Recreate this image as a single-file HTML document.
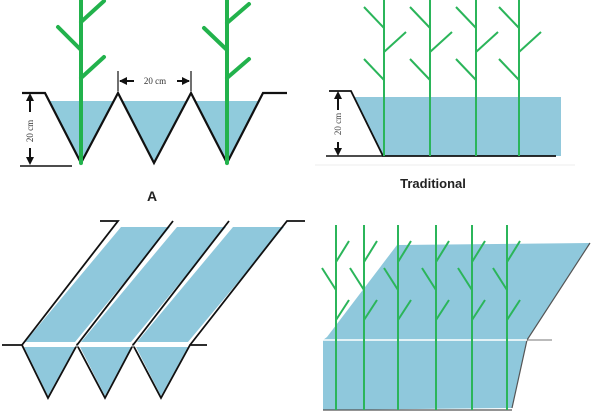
<!DOCTYPE html>
<html><head><style>body{margin:0;background:#fff}svg{display:block}</style></head><body>
<svg width="600" height="420" viewBox="0 0 600 420" xmlns="http://www.w3.org/2000/svg" font-family="Liberation Serif, serif">
<!-- Top-left A -->
<polygon points="49,101 81,163 114,101 122,101 154,163 187,101 195,101 227,163 259,101" fill="#90cbdc"/>
<polyline points="22,93 45,93 81,163 118,93 154,163 191,93 227,163 263,93 287,93" fill="none" stroke="#111" stroke-width="2.2"/>
<line x1="20" y1="166" x2="72" y2="166" stroke="#111" stroke-width="1.5"/>
<line x1="30" y1="95" x2="30" y2="112" stroke="#111" stroke-width="2"/>
<polygon points="30,93 26,101 34,101" fill="#111"/>
<line x1="30" y1="148" x2="30" y2="163" stroke="#111" stroke-width="2"/>
<polygon points="30,165 26,157 34,157" fill="#111"/>
<text x="33" y="131" font-size="9" transform="rotate(-90 33 131)" text-anchor="middle" fill="#333">20 cm</text>
<line x1="118" y1="71" x2="118" y2="91" stroke="#111" stroke-width="1.2"/>
<line x1="191" y1="71" x2="191" y2="91" stroke="#111" stroke-width="1.2"/>
<line x1="120" y1="81" x2="134" y2="81" stroke="#111" stroke-width="2"/>
<polygon points="119,81 127,77 127,85" fill="#111"/>
<line x1="177" y1="81" x2="189" y2="81" stroke="#111" stroke-width="2"/>
<polygon points="190,81 182,77 182,85" fill="#111"/>
<text x="155" y="84" font-size="9" text-anchor="middle" fill="#333">20 cm</text>
<g stroke="#22b24c" stroke-width="4" stroke-linecap="round" fill="none">
<line x1="81" y1="0" x2="81" y2="163"/><line x1="81" y1="50" x2="58" y2="27"/><line x1="81" y1="22" x2="104" y2="1"/><line x1="81" y1="78" x2="104" y2="57"/>
<line x1="227" y1="0" x2="227" y2="163"/><line x1="227" y1="50" x2="204" y2="28"/><line x1="227" y1="23" x2="249" y2="4"/><line x1="227" y1="78" x2="249" y2="59"/>
</g>
<text x="152" y="201" font-size="14" font-weight="bold" font-family="Liberation Sans, sans-serif" text-anchor="middle" fill="#222">A</text>
<!-- Top-right Traditional -->
<polygon points="354,97 561,97 561,156 383,156" fill="#92c9dc"/>
<polyline points="329,91 351,91 383,156 556,156" fill="none" stroke="#111" stroke-width="1.8"/>
<line x1="326" y1="156" x2="383" y2="156" stroke="#111" stroke-width="1.5"/>
<line x1="338" y1="97" x2="338" y2="110" stroke="#111" stroke-width="2"/>
<polygon points="338,91 334,99 342,99" fill="#111"/>
<line x1="338" y1="142" x2="338" y2="152" stroke="#111" stroke-width="2"/>
<polygon points="338,156 334,148 342,148" fill="#111"/>
<text x="341" y="124" font-size="9" transform="rotate(-90 341 124)" text-anchor="middle" fill="#444">20 cm</text>
<line x1="315" y1="165" x2="575" y2="165" stroke="#eee" stroke-width="1"/>
<g stroke="#2bb55a" stroke-width="2" fill="none">
<g id="tp"><line x1="384" y1="0" x2="384" y2="156"/><line x1="364" y1="7" x2="384" y2="28"/><line x1="384" y1="52" x2="406" y2="32"/><line x1="364" y1="59" x2="384" y2="80"/></g>
<use href="#tp" x="46"/><use href="#tp" x="92"/><use href="#tp" x="135"/>
</g>
<text x="433" y="188" font-size="13" font-weight="bold" font-family="Liberation Sans, sans-serif" text-anchor="middle" fill="#222">Traditional</text>
<!-- Bottom-left -->
<g fill="#8fc8dc">
<polygon points="121,227 170,227 75,342 25,342"/>
<polygon points="177,227 226,227 131,342 81,342"/>
<polygon points="233,227 284,227 188,342 137,342"/>
<polygon points="24,347 75,347 48,396"/><polygon points="80,347 131,347 105,396"/><polygon points="136,347 188,347 161,396"/>
</g>
<g stroke="#111" stroke-width="1.8" fill="none">
<polyline points="100,221 118,221 22,345"/><line x1="173" y1="221" x2="77" y2="345"/><line x1="229" y1="221" x2="133" y2="345"/>
<polyline points="305,221 287,221 190,345"/>
<polyline points="2,345 22,345 48,398 77,345 105,398 133,345 161,398 190,345 207,345"/>
</g>
<line x1="24" y1="346" x2="188" y2="346" stroke="#fff" stroke-width="1"/>
<!-- Bottom-right -->
<polygon points="397,245 590,243 527,340 512,408 323,410 323,340 327,337" fill="#8fc8dc"/>
<polyline points="590,243 527,340 512,408" fill="none" stroke="#555" stroke-width="1.2"/>
<line x1="323" y1="340" x2="527" y2="340" stroke="#fff" stroke-width="1.5"/>
<line x1="527" y1="340" x2="552" y2="340" stroke="#777" stroke-width="1"/>
<line x1="323" y1="410" x2="512" y2="410" stroke="#555" stroke-width="1.2"/>
<g stroke="#2bb55a" stroke-width="2" fill="none">
<g id="bp"><line x1="336" y1="225" x2="336" y2="410"/><line x1="336" y1="262" x2="349" y2="241"/><line x1="336" y1="290" x2="322" y2="268"/><line x1="336" y1="320" x2="349" y2="300"/></g>
<use href="#bp" x="28"/><use href="#bp" x="62"/><use href="#bp" x="100"/><use href="#bp" x="136"/><use href="#bp" x="171"/>
</g>
</svg>
</body></html>
